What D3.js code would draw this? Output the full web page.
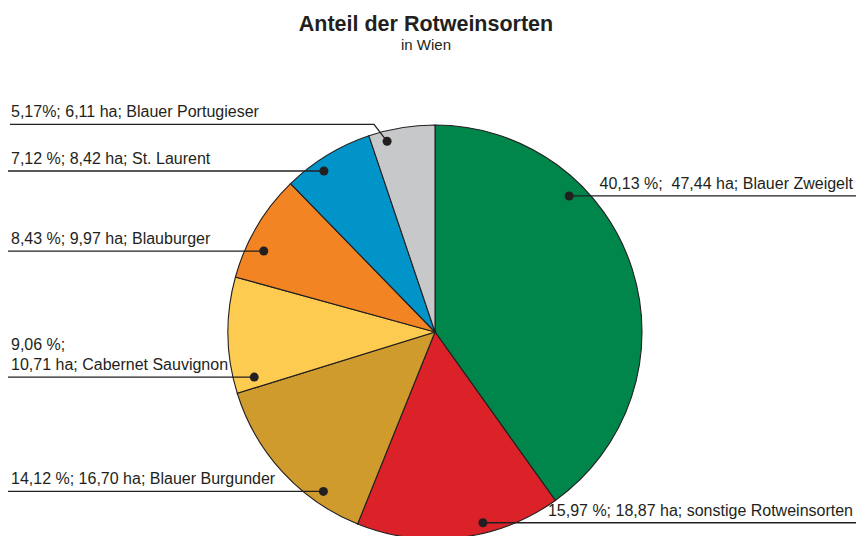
<!DOCTYPE html>
<html>
<head>
<meta charset="utf-8">
<script src="https://cdn.jsdelivr.net/npm/d3@7"></script>
<style>
  body { margin: 0; background: #fff; }
  text { font-family: "Liberation Sans", Arial, sans-serif; fill: #231f20; white-space: pre; }
</style>
</head>
<body>
<script>
// data
const sorten = ["Blauer Zweigelt", "sonstige Rotweinsorten", "Blauer Burgunder", "Cabernet Sauvignon", "Blauburger", "St. Laurent", "Blauer Portugieser"]
const anteil = [40.13, 15.97, 14.12, 9.06, 8.43, 7.12, 5.17]
const hektar = [47.44, 18.87, 16.70, 10.71, 9.97, 8.42, 6.11]
const farben = ["#00864a", "#dc2229", "#cf9b2d", "#fecb51", "#f28423", "#0094c9", "#c7c8ca"]
const labelTexte = [
    ["40,13 %;  47,44 ha; Blauer Zweigelt"],
    ["15,97 %; 18,87 ha; sonstige Rotweinsorten"],
    ["14,12 %; 16,70 ha; Blauer Burgunder"],
    ["9,06 %;", "10,71 ha; Cabernet Sauvignon"],
    ["8,43 %; 9,97 ha; Blauburger"],
    ["7,12 %; 8,42 ha; St. Laurent"],
    ["5,17%; 6,11 ha; Blauer Portugieser"]
]

// label layout: angle of the dot (deg, clockwise from top), radius factor
const dotWinkel = [44.6, 165.9, 215, 256, 295.3, 325.4, 345.9]
const dotRadius = [0.923, 0.95, 0.94, 0.9, 0.915, 0.945, 0.95]

const width = 856, height = 536
const cx = 435, cy = 332, radius = 207

const svg = d3.select("body").append("svg")
    .attr("width", width)
    .attr("height", height)

svg.append("text")
    .attr("x", 426).attr("y", 31)
    .attr("text-anchor", "middle")
    .attr("font-size", "21.5px")
    .attr("font-weight", "bold")
    .text("Anteil der Rotweinsorten")

svg.append("text")
    .attr("x", 426).attr("y", 50)
    .attr("text-anchor", "middle")
    .attr("font-size", "15px")
    .attr("fill", "#333")
    .text("in Wien")

const items = sorten.map((s, i) => ({ name: s, value: anteil[i], ha: hektar[i], color: farben[i], lines: labelTexte[i], i }))

const pie = d3.pie().sort(null).value(d => d.value)
const arc = d3.arc().innerRadius(0).outerRadius(radius)

const g = svg.append("g").attr("transform", `translate(${cx},${cy})`)

g.selectAll("path")
    .data(pie(items))
    .join("path")
    .attr("d", arc)
    .attr("fill", d => d.data.color)
    .attr("stroke", "#231f20")
    .attr("stroke-width", 1.1)

// dots + leader lines
const dots = items.map((d, i) => {
    const a = dotWinkel[i] * Math.PI / 180
    const r = radius * dotRadius[i]
    return { x: cx + r * Math.sin(a), y: cy - r * Math.cos(a), d }
})

const leaders = svg.append("g")
    .attr("fill", "none")
    .attr("stroke", "#231f20")
    .attr("stroke-width", 1.3)

dots.forEach((p, i) => {
    const right = p.x > cx
    let pts
    if (right) {
        pts = [[p.x, p.y], [width, p.y]]
    } else if (i == 6) {
        // Portugieser: elbow line
        pts = [[10, p.y - 17], [374, p.y - 17], [p.x, p.y]]
    } else {
        pts = [[8, p.y], [p.x, p.y]]
    }
    leaders.append("path").attr("d", d3.line()(pts))

    const lineY = pts[0][1]
    const t = svg.append("text")
        .attr("font-size", "16px")
        .attr("text-anchor", right ? "end" : "start")
    const n = p.d.lines.length
    p.d.lines.forEach((l, k) => {
        t.append("tspan")
            .attr("x", right ? 853 : 11)
            .attr("y", lineY - 7 - (n - 1 - k) * 20)
            .text(l)
    })
})

svg.append("g")
    .selectAll("circle")
    .data(dots)
    .join("circle")
    .attr("cx", d => d.x)
    .attr("cy", d => d.y)
    .attr("r", 4.5)
    .attr("fill", "#231f20")
</script>
</body>
</html>
